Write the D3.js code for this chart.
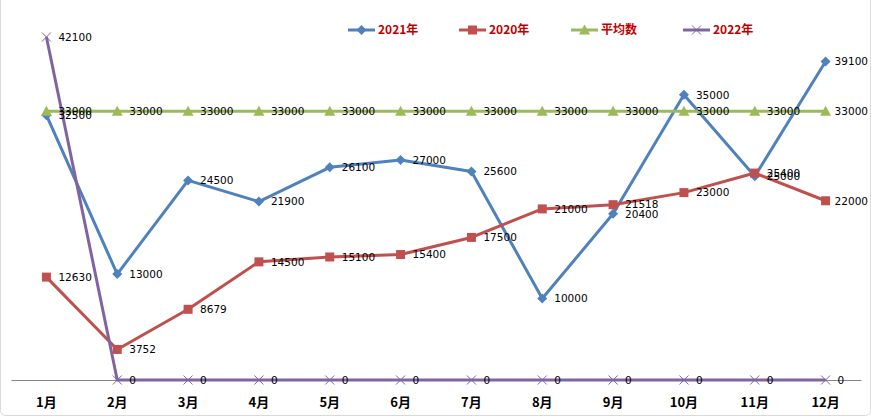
<!DOCTYPE html>
<html><head><meta charset="utf-8">
<script src="https://cdn.jsdelivr.net/npm/d3@7"></script>
<style>body{margin:0;background:#fff}svg{display:block}</style>
</head><body>
<svg id="c" width="871" height="417"></svg>
<script>
const months = ["1月","2月","3月","4月","5月","6月","7月","8月","9月","10月","11月","12月"];
const s2021 = [32500,13000,24500,21900,26100,27000,25600,10000,20400,35000,25000,39100];
const s2020 = [12630,3752,8679,14500,15100,15400,17500,21000,21518,23000,25400,22000];
const sAvg  = [33000,33000,33000,33000,33000,33000,33000,33000,33000,33000,33000,33000];
const s2022 = [42100,0,0,0,0,0,0,0,0,0,0,0];
const seriesNames = ["2021年","2020年","平均数","2022年"];

const series = [
  {name: seriesNames[0], values: s2021, color: "#4F81BD", marker: "diamond"},
  {name: seriesNames[1], values: s2020, color: "#C0504D", marker: "square"},
  {name: seriesNames[2], values: sAvg,  color: "#9BBB59", marker: "triangle"},
  {name: seriesNames[3], values: s2022, color: "#8064A2", marker: "x"}
];

const svg = d3.select("#c");
svg.append("rect").attr("x",0.5).attr("y",-5).attr("width",870).attr("height",420.5)
  .attr("rx",5).attr("fill","#fff").attr("stroke","#D9D9D9");

const x = d3.scaleBand().domain(months).range([11, 861]);
const y = d3.scaleLinear().domain([0, 42100]).range([380, 37]);
const cx = m => x(m) + x.bandwidth()/2;

// axis
const xAxis = d3.axisBottom(x).tickSize(0).tickPadding(18);
const gx = svg.append("g").attr("transform","translate(0,380)").call(xAxis);
gx.select(".domain").attr("stroke","#868686").attr("stroke-width",1.2);
gx.selectAll("text").attr("font-family","'Noto Sans CJK SC', sans-serif")
  .attr("font-size",13).attr("font-weight","bold").attr("fill","#000");

function drawMarker(g, type, color, px, py) {
  if (type === "diamond") {
    g.append("path").attr("d", `M${px},${py-5}L${px+5},${py}L${px},${py+5}L${px-5},${py}Z`).attr("fill",color);
  } else if (type === "square") {
    g.append("rect").attr("x",px-4.5).attr("y",py-4.5).attr("width",9).attr("height",9).attr("fill",color);
  } else if (type === "triangle") {
    g.append("path").attr("d", `M${px},${py-5.5}L${px+5.5},${py+4.5}L${px-5.5},${py+4.5}Z`).attr("fill",color);
  } else {
    g.append("path").attr("d", `M${px-4.5},${py-4.5}L${px+4.5},${py+4.5}M${px+4.5},${py-4.5}L${px-4.5},${py+4.5}`)
      .attr("stroke",color).attr("stroke-width",1).attr("fill","none");
  }
}

const line = d3.line().x((d,i)=>cx(months[i])).y(d=>y(d));
const gLines = svg.append("g");
series.forEach(s => {
  const g = gLines.append("g");
  g.append("path").attr("d", line(s.values)).attr("fill","none")
    .attr("stroke", s.color).attr("stroke-width",3).attr("stroke-linejoin","round");
  s.values.forEach((v,i) => drawMarker(g, s.marker, s.color, cx(months[i]), y(v)));
});

// data labels
const gLab = svg.append("g").attr("font-family","'DejaVu Sans', sans-serif").attr("font-size",10.5).attr("fill","#000");
series.forEach(s => {
  s.values.forEach((v,i) => {
    const t = gLab.append("text").attr("x", cx(months[i]) + 12).attr("y", y(v)).attr("dy","0.36em").text(v);
    const w = t.node().getComputedTextLength();
    const xx = Math.min(cx(months[i]) + 12, 868 - w);
    t.attr("x", xx);
  });
});

// legend
const legX = [348, 459, 571, 683];
const lg = svg.append("g");
series.forEach((s,i) => {
  const x0 = legX[i], yy = 30;
  lg.append("line").attr("x1",x0).attr("x2",x0+27).attr("y1",yy).attr("y2",yy)
    .attr("stroke",s.color).attr("stroke-width",3);
  drawMarker(lg, s.marker, s.color, x0+13.5, yy);
  lg.append("text").attr("x",x0+30).attr("y",yy).attr("dy","0.36em")
    .attr("font-family","'Noto Sans CJK SC', sans-serif").attr("font-size",12).attr("font-weight","bold")
    .attr("fill","#C00000").text(s.name);
});
</script>
</body></html>
